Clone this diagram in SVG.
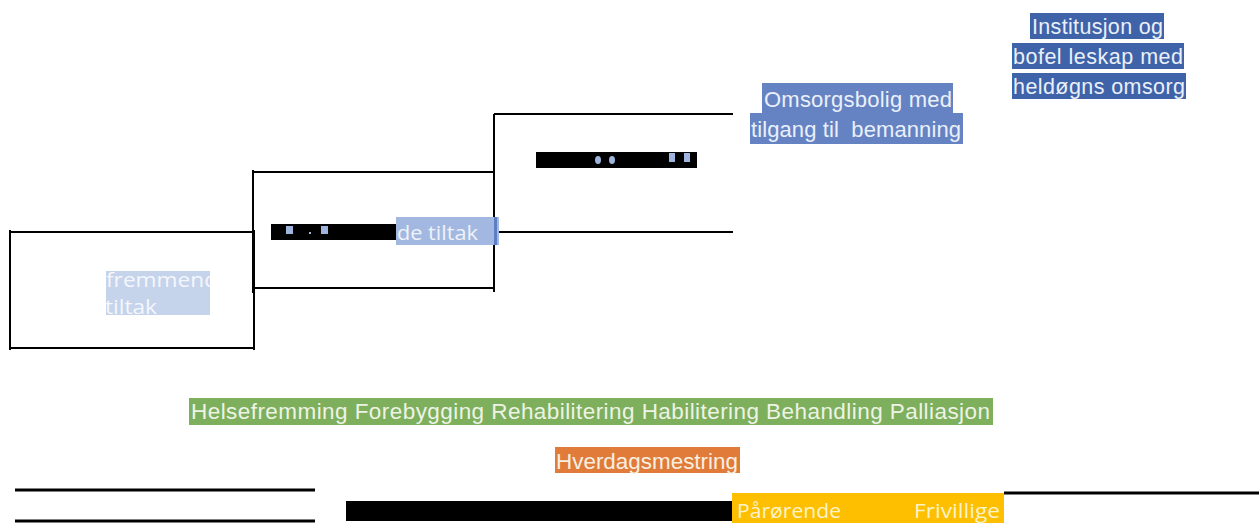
<svg xmlns="http://www.w3.org/2000/svg" width="1259" height="523" viewBox="0 0 1259 523">
<style>
.ln{stroke:#000;stroke-width:2;fill:none}
.thk{stroke:#000;stroke-width:3;fill:none}
.ar{font-family:"Liberation Sans",Arial,sans-serif}
.cal{font-family:"Open Sans",Lato,sans-serif}
.lt{fill:#eaf0fa}
.sq{fill:#9fb4de}
</style>
<defs>
<clipPath id="clipF"><rect x="106" y="271" width="104" height="44"/></clipPath>
</defs>
<rect width="1259" height="523" fill="#fff"/>
<g id="connectors">
<path class="ln" d="M10,232 H254 M10,348 H254 M10,230 V350 M254,230 V350"/>
<path class="ln" d="M252,172 H494 M252,288 H494 M253,170 V293 M249,232 H253 M494,114 V292 M494,114 H733 M494,232 H733 M254,288 H258"/>
<path class="thk" d="M15,490 H315 M15,521 H315 M1004,493 H1259"/>
</g>
<g id="node-fremmende">
<rect x="106" y="271" width="104" height="44" fill="#c5d3eb"/>
<g clip-path="url(#clipF)">
<text class="cal" x="106" y="287" fill="#f4f7fc" style="font-size:20px" textLength="112" lengthAdjust="spacingAndGlyphs">fremmend</text>
<text class="cal" x="105" y="314" fill="#f4f7fc" style="font-size:20px" textLength="52" lengthAdjust="spacingAndGlyphs">tiltak</text>
</g>
</g>
<g id="node-tiltak">
<rect x="271" y="224" width="126" height="16" fill="#000"/>
<rect class="sq" x="286" y="226" width="7" height="8"/>
<rect class="sq" x="309" y="232" width="2" height="2"/>
<rect class="sq" x="321" y="226" width="7" height="8"/>
<rect x="396" y="217" width="103" height="28" fill="#a3b8e0"/>
<rect x="494" y="217" width="3" height="28" fill="#5d7ec4"/>
<text class="cal" x="397" y="240" fill="#eef2fa" style="font-size:20px" textLength="81" lengthAdjust="spacingAndGlyphs">de tiltak</text>
</g>
<g id="node-bar3">
<rect x="536" y="152" width="161" height="16" fill="#000"/>
<ellipse class="sq" cx="598" cy="160" rx="3" ry="4"/>
<ellipse class="sq" cx="612" cy="160" rx="3" ry="4"/>
<rect class="sq" x="669" y="153" width="6" height="9"/>
<rect class="sq" x="684" y="153" width="6" height="9"/>
</g>
<g id="node-omsorgsbolig">
<rect x="762" y="83" width="191" height="31" fill="#6583c3"/>
<rect x="750" y="113" width="213" height="31" fill="#6583c3"/>
<text class="ar lt" x="764" y="107" style="font-size:22px" textLength="188" lengthAdjust="spacing">Omsorgsbolig med</text>
<text class="ar lt" x="751" y="137" style="font-size:22px" textLength="210" lengthAdjust="spacing">tilgang til&#160; bemanning</text>
</g>
<g id="node-institusjon">
<rect x="1030" y="13" width="134" height="26" fill="#3f63a8"/>
<rect x="1012" y="43" width="172" height="26" fill="#3f63a8"/>
<rect x="1012" y="73" width="174" height="26" fill="#3f63a8"/>
<text class="ar lt" x="1032" y="34" style="font-size:21.5px" textLength="131" lengthAdjust="spacing">Institusjon og</text>
<text class="ar lt" x="1013" y="64" style="font-size:21.5px" textLength="170" lengthAdjust="spacing">bofel leskap med</text>
<text class="ar lt" x="1013" y="94" style="font-size:21.5px" textLength="172" lengthAdjust="spacing">heldøgns omsorg</text>
</g>
<g id="node-green">
<rect x="189" y="398" width="804" height="27" fill="#7daf5c"/>
<text class="ar" x="191" y="419" fill="#eef3e6" style="font-size:22.5px" textLength="799" lengthAdjust="spacing">Helsefremming Forebygging Rehabilitering Habilitering Behandling Palliasjon</text>
</g>
<g id="node-hverdag">
<rect x="555" y="447" width="185" height="26" fill="#e07b3a"/>
<text class="ar" x="556" y="469" fill="#f7efe0" style="font-size:22.4px" textLength="182" lengthAdjust="spacing">Hverdagsmestring</text>
</g>
<g id="node-bottom">
<rect x="346" y="501" width="387" height="20" fill="#000"/>
<rect x="732" y="493" width="272" height="30" fill="#fdbf00"/>
<text class="cal" x="737" y="518" fill="#fdf3c8" style="font-size:20px" textLength="104" lengthAdjust="spacingAndGlyphs">Pårørende</text>
<text class="cal" x="914" y="518" fill="#fdf3c8" style="font-size:20px" textLength="86" lengthAdjust="spacingAndGlyphs">Frivillige</text>
</g>
</svg>
